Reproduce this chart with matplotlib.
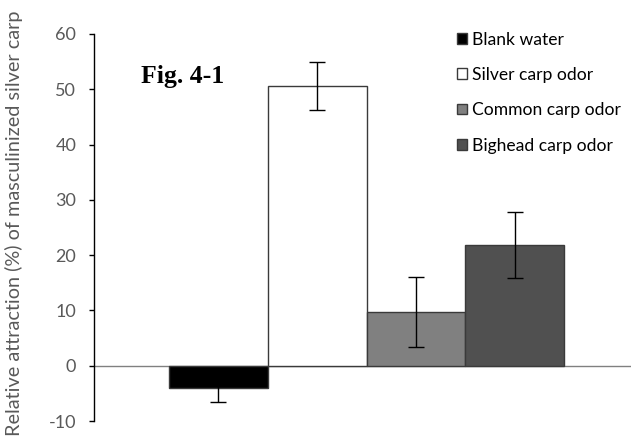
import matplotlib
matplotlib.use("Agg")
import matplotlib.pyplot as plt
from matplotlib.patches import Patch

categories = ["Blank water", "Silver carp odor", "Common carp odor", "Bighead carp odor"]
values = [-4.0, 50.6, 9.7, 21.8]
errors = [2.5, 4.3, 6.4, 6.0]
colors = ["#000000", "#ffffff", "#808080", "#505050"]
yticks = [-10, 0, 10, 20, 30, 40, 50, 60]

W, H = 631, 447
fig = plt.figure(figsize=(W / 100, H / 100), dpi=100)
ax = fig.add_axes([94 / W, 1 - 421 / H, 1 - 94 / W, (421 - 34) / H])

font = "Lato"
txtcol = "#595959"

x = list(range(len(categories)))
ax.bar(x, values, width=1.0, color=colors, edgecolor="#3a3a3a", linewidth=1.0, zorder=2)
ax.errorbar(x, values, yerr=errors, fmt="none", ecolor="#000000", elinewidth=1.0,
            capsize=6, capthick=1.0, zorder=3)

ax.set_xlim(-1.257, 4.175)
ax.set_ylim(-10, 60)
ax.set_yticks(yticks)
ax.set_yticklabels([str(t) for t in yticks], fontfamily=font, fontsize=13, color=txtcol)
ax.tick_params(axis="y", direction="out", length=3.8, width=1.0, color="#000000", pad=9)
ax.set_xticks([])
for s in ["top", "right", "bottom"]:
    ax.spines[s].set_visible(False)
ax.spines["left"].set_color("#000000")
ax.spines["left"].set_linewidth(1.0)
ax.axhline(0, color="#808080", linewidth=1.0, zorder=1)

fig.text(14 / W, 1 - 223 / H, "Relative attraction (%) of masculinized silver carp",
         rotation=90, ha="center", va="center", fontfamily=font, fontsize=14.3, color=txtcol)

fig.text(141 / W, 1 - 83 / H, "Fig. 4-1", ha="left", va="baseline",
         fontfamily="Liberation Serif", fontweight="bold", fontsize=18.5, color="#000000")

handles = [Patch(facecolor=c, edgecolor="#3a3a3a", linewidth=1.0) for c in colors]
leg = fig.legend(handles, categories, loc="upper left", bbox_to_anchor=(448 / W, 1 - 23 / H),
                 frameon=False, prop={"family": font, "size": 12.6}, handlelength=0.57,
                 handleheight=0.57, handletextpad=0.3, labelspacing=1.1, borderpad=0)
for t in leg.get_texts():
    t.set_color("#000000")

fig.savefig("out.png", dpi=100)
